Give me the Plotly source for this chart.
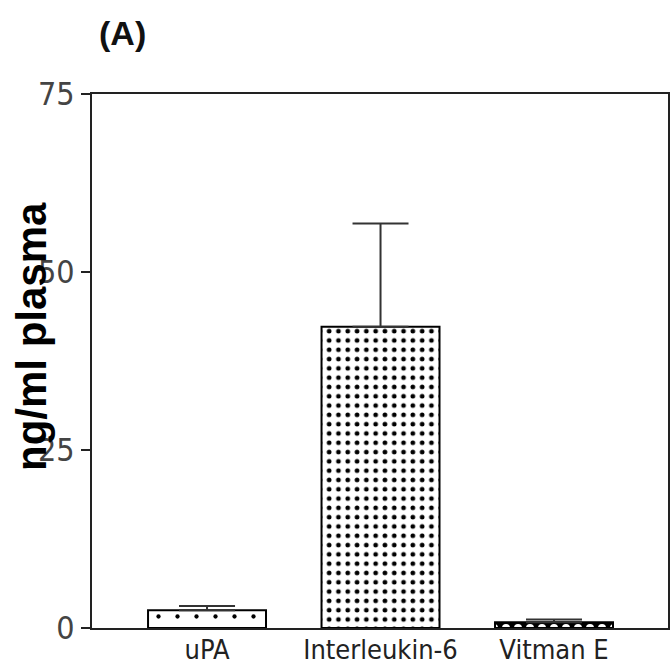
import plotly.graph_objects as go

categories = ["uPA", "Interleukin-6", "Vitman E"]
values = [2.5, 42.3, 0.8]
errors_up = [0.6, 14.5, 0.4]
tick_vals = [0, 25, 50, 75]
tick_text = ["0", "25", "50", "75"]

W, H = 670, 669
ml, mr, mt, mb = 92, 2, 94, 41
pw = W - ml - mr
ph = H - mt - mb

fig = go.Figure()

patterns = [
    dict(shape=".", size=19, solidity=0.04, fgcolor="black", bgcolor="white", fillmode="replace"),
    dict(shape=".", size=9.3, solidity=0.2, fgcolor="black", bgcolor="white", fillmode="replace"),
    dict(shape=".", size=12, solidity=0.35, fgcolor="white", bgcolor="black", fillmode="replace"),
]

for i, cat in enumerate(categories):
    fig.add_trace(go.Bar(
        x=[i], y=[values[i]],
        width=0.68,
        marker=dict(color="white", line=dict(color="black", width=2), pattern=patterns[i]),
        error_y=dict(type="data", symmetric=False, array=[errors_up[i]], arrayminus=[0],
                     color="#333333", thickness=2, width=28),
        showlegend=False,
    ))

narrow = "DejaVu Sans Condensed, Liberation Sans Narrow, sans-serif"

fig.update_layout(
    width=W, height=H,
    margin=dict(l=ml, r=mr, t=mt, b=mb),
    paper_bgcolor="white", plot_bgcolor="white",
    xaxis=dict(
        range=[-0.663, 2.657], automargin=False,
        tickmode="array", tickvals=list(range(len(categories))), ticktext=categories,
        ticks="", showline=True, linecolor="#222222", linewidth=2, mirror=True,
        showgrid=False, zeroline=False, ticklabelstandoff=-3,
        tickfont=dict(family=narrow, size=27, color="#222222"),
    ),
    yaxis=dict(
        range=[0, 75], automargin=False,
        tickmode="array", tickvals=tick_vals, ticktext=tick_text,
        ticks="outside", ticklen=9, tickwidth=2, tickcolor="#222222",
        showline=True, linecolor="#222222", linewidth=2, mirror=True,
        showgrid=False, zeroline=False,
        tickfont=dict(family=narrow, size=32, color="#444444"),
    ),
    annotations=[
        dict(text="<b>ng/ml plasma</b>", textangle=-90, xref="paper", yref="paper",
             x=(31 - ml) / pw, y=(H - mb - 337) / ph, xanchor="center", yanchor="middle",
             showarrow=False, font=dict(family="Liberation Sans, Arial, sans-serif", size=42, color="black")),
        dict(text="<b>(A)</b>", xref="paper", yref="paper",
             x=(122 - ml) / pw, y=(H - mb - 33) / ph, xanchor="center", yanchor="middle",
             showarrow=False, font=dict(family="Liberation Sans, Arial, sans-serif", size=34, color="#111111")),
    ],
)

fig.write_html("out.html")
